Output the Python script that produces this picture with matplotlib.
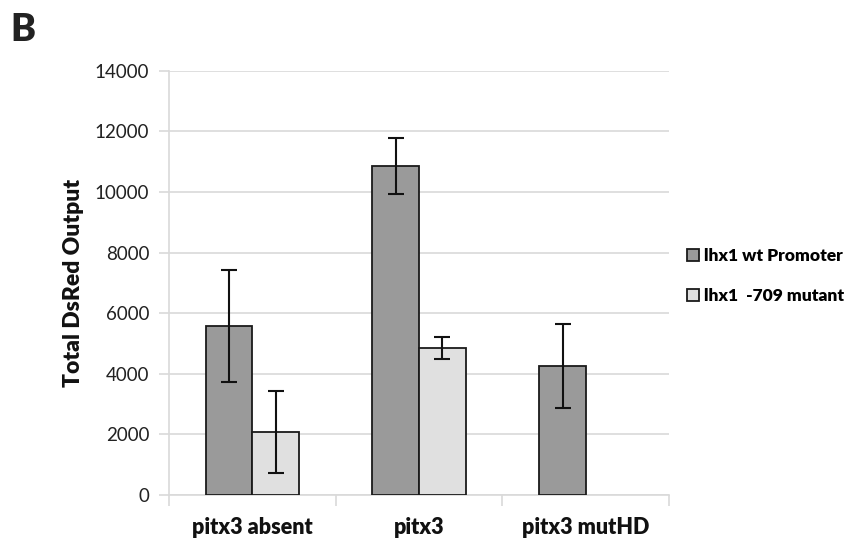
import numpy as np
import matplotlib
matplotlib.use("Agg")
import matplotlib.pyplot as plt

plt.rcParams['font.family'] = ['Lato', 'DejaVu Sans']

# values
categories = ["pitx3 absent", "pitx3", "pitx3 mutHD"]
wt_mean = [5580, 10860, 4260]
wt_err = [1860, 925, 1390]
mut_mean = [2080, 4850, 0]
mut_err = [1340, 365, 0]
series_names = ["lhx1 wt Promoter", "lhx1  -709 mutant"]
yticks = [0, 2000, 4000, 6000, 8000, 10000, 12000, 14000]

fig = plt.figure(figsize=(8.57, 5.41), dpi=100)
ax = fig.add_axes([0.197, 0.085, 0.584, 0.784])

x = np.arange(len(categories))
w = 0.28
grid_c = "#d9d9d9"

ax.bar(x - w/2, wt_mean, w, color="#9a9a9a", edgecolor="#1a1a1a", linewidth=1.3,
       label=series_names[0], zorder=3)
ax.bar(x[:2] + w/2, mut_mean[:2], w, color="#e0e0e0", edgecolor="#1a1a1a", linewidth=1.3,
       label=series_names[1], zorder=3)
ax.errorbar(x - w/2, wt_mean, yerr=wt_err, fmt="none", ecolor="#111111",
            elinewidth=1.5, capsize=6, capthick=1.5, zorder=4)
ax.errorbar(x[:2] + w/2, mut_mean[:2], yerr=mut_err[:2], fmt="none", ecolor="#111111",
            elinewidth=1.5, capsize=6, capthick=1.5, zorder=4)

ax.set_xlim(-0.5, 2.5)
ax.set_ylim(0, 14000)
ax.set_yticks(yticks)
ax.set_yticklabels([str(v) for v in yticks], fontsize=13.5, color="#222222")
ax.yaxis.grid(True, color=grid_c, linewidth=1.2, zorder=0)
ax.tick_params(axis="y", length=7, color=grid_c, width=1.2, pad=7)

ax.set_xticks(x)
ax.set_xticklabels(categories, fontsize=15.5, fontweight="heavy", color="#111111")
ax.set_xticks([-0.5, 0.5, 1.5, 2.5], minor=True)
ax.tick_params(axis="x", which="major", length=0, pad=16)
ax.tick_params(axis="x", which="minor", length=8, color=grid_c, width=1.2)

for s in ["top", "right"]:
    ax.spines[s].set_visible(False)
for s in ["left", "bottom"]:
    ax.spines[s].set_color(grid_c)
    ax.spines[s].set_linewidth(1.2)

ax.set_ylabel("Total DsRed Output", fontsize=16.5, fontweight="heavy", color="#111111", labelpad=8)

fig.legend(loc="center left", bbox_to_anchor=(0.783, 0.49), frameon=False,
           prop={"weight": "heavy", "size": 12.5},
           handlelength=0.7, handleheight=0.7, handletextpad=0.3, labelspacing=1.4)

fig.text(0.012, 0.945, "B", fontsize=27, fontweight="heavy", color="#222222", va="center")

fig.savefig("out.png", dpi=100)
